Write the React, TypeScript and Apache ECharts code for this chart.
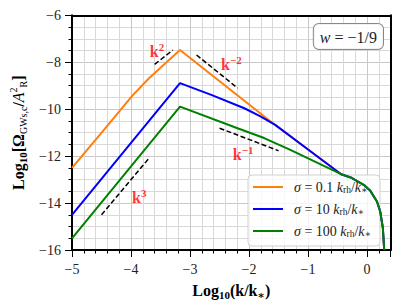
import React, { useEffect, useRef } from 'react';
import * as echarts from 'echarts';

// ---- data (log10 k/k*, log10 Omega) ----
const commonTail: number[][] = [
  [-0.44, -12.77], [-0.278, -12.91], [-0.057, -13.22], [0.055, -13.48],
  [0.167, -13.93], [0.222, -14.36], [0.267, -15.06], [0.29, -16.0],
];
const sigma01: number[][] = [
  [-5, -12.5], [-4.445, -10.84], [-3.973, -9.41], [-3.695, -8.68], [-3.417, -8.04], [-3.17, -7.48],
  [-1.65, -10.49], [-1.0, -11.72],
];
const sigma10: number[][] = [
  [-5, -14.5], [-3.17, -8.89], [-2.64, -9.39], [-2.08, -9.96], [-1.807, -10.31],
  [-1.557, -10.67], [-1.0, -11.72],
];
const sigma100: number[][] = [
  [-5, -15.5], [-3.17, -9.89], [-2.195, -10.81], [-1.745, -11.23], [-1.31, -11.72],
];
const guideK2: number[][] = [[-3.6, -8.09], [-3.29, -7.48]];
const guideKm2: number[][] = [[-2.89, -7.69], [-2.195, -9.1]];
const guideKm1: number[][] = [[-2.5, -10.81], [-1.5, -11.77]];
const guideK3: number[][] = [[-4.5, -14.5], [-3.695, -12.09]];
const slopeLabels = [
  { pos: [-3.56, -7.56], text: '{b|k}{sup|2}' },
  { pos: [-2.3, -8.11], text: '{b|k}{sup|−2}' },
  { pos: [-2.1, -11.94], text: '{b|k}{sup|−1}' },
  { pos: [-3.86, -13.77], text: '{b|k}{sup|3}' },
];
const seriesNames = ['s01', 's10', 's100'];
const legendTexts: Record<string, string> = {
  s01: '{g|}{it|σ}{n| = 0.1 }{it|k}{sub|rh}{n|/}{it|k}{sub|∗}',
  s10: '{g|}{it|σ}{n| = 10 }{it|k}{sub|rh}{n|/}{it|k}{sub|∗}',
  s100: '{g|}{it|σ}{n| = 100 }{it|k}{sub|rh}{n|/}{it|k}{sub|∗}',
};
const colors = ['#ff7f0e', '#0000ff', '#008000'];
const xTicks = { min: -5, max: 0.4, interval: 1 };
const yTicks = { min: -16, max: -6, interval: 2 };

const SERIF = "'Liberation Serif', 'DejaVu Serif', serif";

export default function App() {
  const ref = useRef<HTMLDivElement>(null);
  useEffect(() => {
    document.body.style.margin = '0';
    if (!ref.current) return;
    const chart = echarts.init(ref.current, undefined, { renderer: 'svg' });
    const lineSeries = [sigma01.concat(commonTail), sigma10.concat(commonTail), sigma100.concat(commonTail)].map((d, i) => ({
      type: 'line',
      name: seriesNames[i],
      data: d,
      symbol: 'none',
      lineStyle: { color: colors[i], width: 2 },
      itemStyle: { color: colors[i] },
      z: 3 + i,
    }));
    const guides = [guideK2, guideKm2, guideKm1, guideK3].map((d) => ({
      type: 'line',
      data: d,
      symbol: 'none',
      lineStyle: { color: '#000', width: 1.5, type: [5, 2.5] },
      z: 6,
    }));
    const rich = {
      b: { fontFamily: SERIF, fontWeight: 'bold', fontSize: 16, color: '#ff0000', lineHeight: 20, verticalAlign: 'middle' },
      sup: { fontFamily: SERIF, fontWeight: 'bold', fontSize: 11, color: '#ff0000', lineHeight: 10, verticalAlign: 'top' },
    };
    const labelSeries = {
      type: 'scatter',
      symbolSize: 1,
      itemStyle: { color: 'rgba(0,0,0,0)' },
      z: 7,
      data: slopeLabels.map((l) => ({
        value: l.pos,
        label: { show: true, position: 'inside', formatter: l.text, rich },
      })),
    };
    const nameRich = {
      b: { fontFamily: SERIF, fontWeight: 'bold', fontSize: 16, color: '#000', lineHeight: 20, verticalAlign: 'middle' },
      i: { fontFamily: SERIF, fontStyle: 'italic', fontSize: 16, color: '#000', lineHeight: 20, verticalAlign: 'middle' },
      sub: { fontFamily: SERIF, fontWeight: 'bold', fontSize: 11, color: '#000', lineHeight: 10, verticalAlign: 'bottom' },
      subr: { fontFamily: SERIF, fontSize: 10, color: '#000', lineHeight: 10, verticalAlign: 'bottom' },
      supr: { fontFamily: SERIF, fontSize: 10, color: '#000', lineHeight: 10, verticalAlign: 'top' },
    };
    const tickFmt = (v: number) => (v < 0 ? '−' + Math.abs(v) : String(v));
    const gridLine = { show: true, lineStyle: { color: '#c8c8c8', width: 1 } };
    const minorGridLine = { show: true, lineStyle: { color: '#d9d9d9', width: 1 } };
    chart.setOption({
      animation: false,
      grid: { left: 66.7, right: 16.3, top: 15.3, bottom: 55 },
      xAxis: [
        {
          type: 'value',
          min: xTicks.min, max: xTicks.max, interval: xTicks.interval,
          name: '{b|Log}{sub|10}{b|(k/k}{sub|∗}{b|)}',
          nameLocation: 'middle', nameGap: 30,
          nameTextStyle: { rich: nameRich },
          axisLine: { show: true, onZero: false, lineStyle: { color: '#000', width: 2 } },
          axisTick: { show: true, length: 7, lineStyle: { color: '#000', width: 1 } },
          minorTick: { show: true, splitNumber: 5, length: 3.5, lineStyle: { color: '#000', width: 1 } },
          splitLine: gridLine,
          minorSplitLine: minorGridLine,
          axisLabel: { margin: 12, color: '#222', fontFamily: SERIF, fontSize: 14, showMaxLabel: false, formatter: tickFmt },
        },
        {
          type: 'value', position: 'top',
          min: xTicks.min, max: xTicks.max, interval: xTicks.interval,
          axisLine: { show: true, onZero: false, lineStyle: { color: '#000', width: 2 } },
          axisTick: { show: false }, axisLabel: { show: false }, splitLine: { show: false },
        },
      ],
      yAxis: [
        {
          type: 'value',
          min: yTicks.min, max: yTicks.max, interval: yTicks.interval,
          name: '{b|Log}{sub|10}{b|[Ω}{subr|GWs,c}{b|/}{i|A}{supr|2}{subr|R}{b|]}',
          nameLocation: 'middle', nameGap: 44, nameRotate: 90,
          nameTextStyle: { rich: nameRich },
          axisLine: { show: true, onZero: false, lineStyle: { color: '#000', width: 2 } },
          axisTick: { show: true, length: 7, lineStyle: { color: '#000', width: 1 } },
          minorTick: { show: true, splitNumber: 4, length: 3.5, lineStyle: { color: '#000', width: 1 } },
          splitLine: gridLine,
          minorSplitLine: minorGridLine,
          axisLabel: { margin: 11, color: '#222', fontFamily: SERIF, fontSize: 14, formatter: tickFmt },
        },
        {
          type: 'value', position: 'right',
          min: yTicks.min, max: yTicks.max, interval: yTicks.interval,
          axisLine: { show: true, onZero: false, lineStyle: { color: '#000', width: 2 } },
          axisTick: { show: false }, axisLabel: { show: false }, splitLine: { show: false },
        },
      ],
      legend: {
        data: seriesNames,
        orient: 'vertical',
        left: 248, top: 175,
        padding: [5, 9, 7, 4],
        itemWidth: 30, itemHeight: 14, itemGap: 7,
        itemStyle: { opacity: 0 },
        backgroundColor: 'rgba(255,255,255,0.8)',
        borderColor: '#d0d0d0', borderWidth: 1, borderRadius: 4,
        formatter: (name: string) => legendTexts[name],
        textStyle: {
          rich: {
            g: { width: 6 },
            it: { fontFamily: SERIF, fontStyle: 'italic', fontSize: 14, color: '#222', lineHeight: 16, verticalAlign: 'middle' },
            n: { fontFamily: SERIF, fontSize: 14, color: '#222', lineHeight: 16, verticalAlign: 'middle' },
            sub: { fontFamily: SERIF, fontSize: 9.5, color: '#222', lineHeight: 8, verticalAlign: 'bottom' },
          },
        },
      },
      graphic: [
        {
          type: 'text',
          right: 23, top: 23,
          z: 10,
          style: {
            text: '{i|w}{n| = −1/9}',
            fill: '#222',
            backgroundColor: 'rgba(255,255,255,0.9)',
            borderColor: '#888', borderWidth: 1, borderRadius: 5,
            padding: [4, 6, 3, 6],
            rich: {
              i: { fontFamily: SERIF, fontStyle: 'italic', fontSize: 16, fill: '#222', lineHeight: 18 },
              n: { fontFamily: SERIF, fontSize: 16, fill: '#222', lineHeight: 18 },
            },
          },
        },
      ],
      series: [...lineSeries, ...guides, labelSeries],
    });
    return () => chart.dispose();
  }, []);
  return <div ref={ref} style={{ width: 407, height: 305 }} />;
}
